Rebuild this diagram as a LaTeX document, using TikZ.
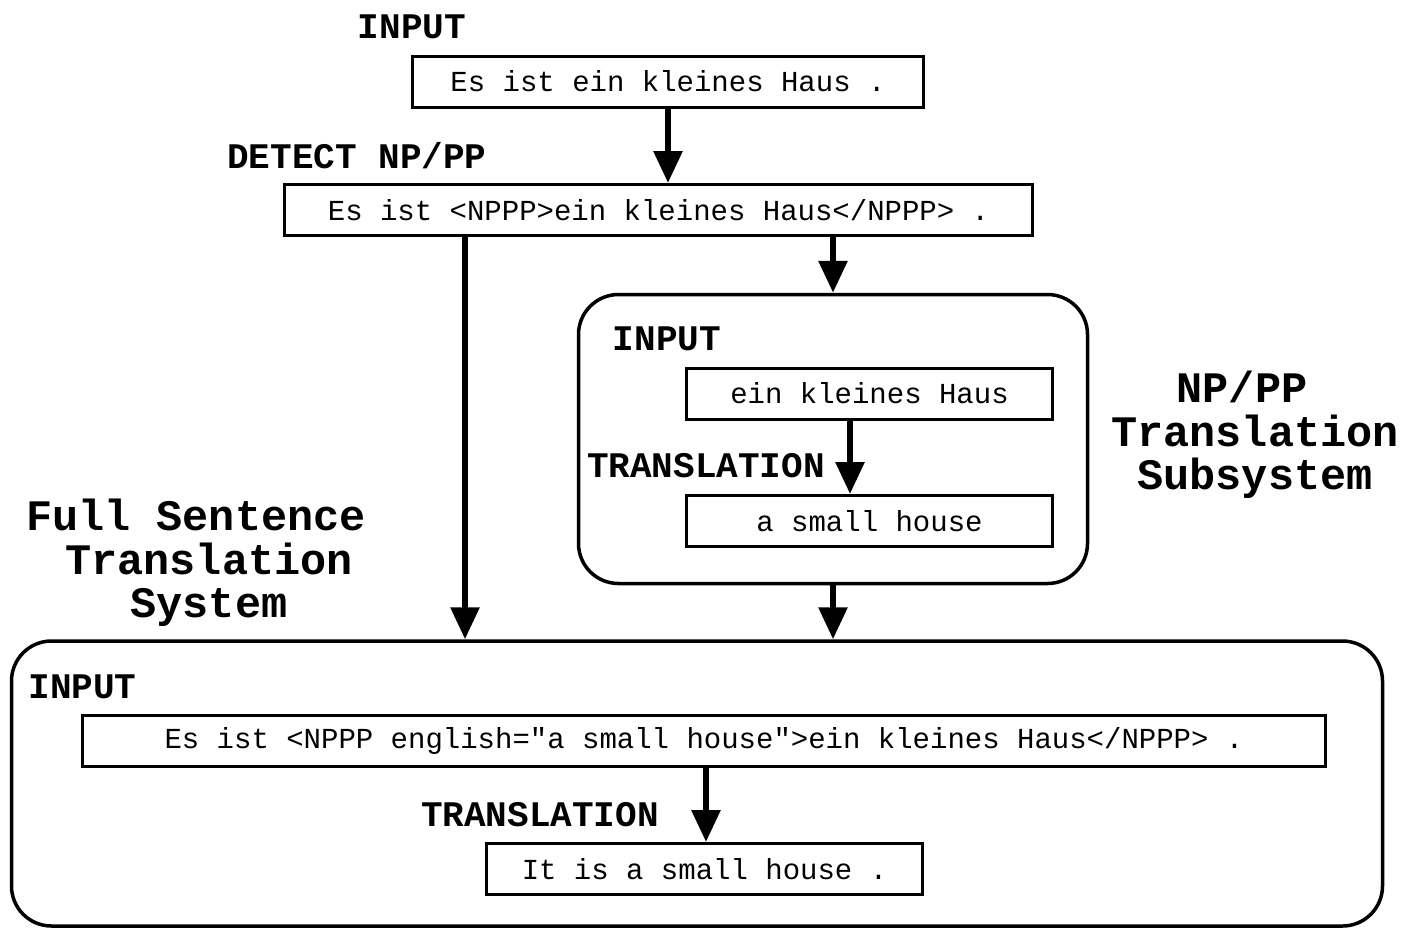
\documentclass[tikz,border=0pt]{standalone}
\usepackage{fontspec}
\newfontfamily\monofnt{Liberation Mono}
\usetikzlibrary{arrows.meta}
\tikzset{
  tbox/.style={draw, line width=3pt, minimum height=51pt, inner sep=0pt, font=\monofnt\fontsize{29}{29}\selectfont},
  lab/.style={inner sep=0pt, font=\monofnt\fontsize{36}{36}\selectfont\bfseries},
  biglab/.style={inner sep=0pt, align=center, font=\monofnt\fontsize{43.5}{43.5}\selectfont\bfseries},
  rbox/.style={draw, line width=3.5pt, rounded corners=40pt, inner sep=0pt},
  arr/.style={line width=6pt, -{Triangle[length=32pt,width=28pt]}}
}
\begin{document}
\begin{tikzpicture}[x=1pt,y=-1pt]
\useasboundingbox (0,0) rectangle (1403,930);
% containers
\node[rbox, minimum width=509pt, minimum height=289pt] (sub) at (833,439) {};
\node[rbox, minimum width=1371pt, minimum height=285pt] (full) at (697,783.5) {};
% boxes
\node[tbox, minimum width=511pt] (in1) at (668,81.5) {Es ist ein kleines Haus .};
\node[tbox, minimum width=748pt] (det) at (658.5,210) {Es ist <NPPP>ein kleines Haus</NPPP> .};
\node[tbox, minimum width=366pt] (ekh) at (869.5,393.5) {ein kleines Haus};
\node[tbox, minimum width=366pt] (sh) at (869.5,521) {a small house};
\node[tbox, minimum width=1243pt] (binp) at (704,741) {Es ist <NPPP english="a small house">ein kleines Haus</NPPP> .};
\node[tbox, minimum width=436pt] (res) at (704.5,869) {It is a small house .};
% labels
\node[lab] (l1) at (412,27) {INPUT};
\node[lab] (l2) at (357,156) {DETECT NP/PP};
\node[lab] (l3) at (667,339) {INPUT};
\node[lab] (l4) at (706,466) {TRANSLATION};
\node[lab] (l5) at (82.5,687) {INPUT};
\node[lab] (l6) at (540,815) {TRANSLATION};
\node[biglab] (l7) at (1255,435) {NP/PP\hphantom{X}\\Translation\\Subsystem};
\node[biglab] (l8) at (209,563) {Full Sentence\hphantom{X}\\Translation\\System};
% x positions
\coordinate (xa) at (465,0);
\coordinate (xb) at (833,0);
\coordinate (xc) at (850,0);
\coordinate (xd) at (706,0);
% connectors
\draw[arr] (in1.south) -- (in1.south |- det.north);
\draw[arr] (det.south -| xa) -- (full.north -| xa);
\draw[arr] (det.south -| xb) -- (sub.north -| xb);
\draw[arr] (ekh.south -| xc) -- (sh.north -| xc);
\draw[arr] (sub.south -| xb) -- (full.north -| xb);
\draw[arr] (binp.south -| xd) -- (res.north -| xd);
\end{tikzpicture}
\end{document}
